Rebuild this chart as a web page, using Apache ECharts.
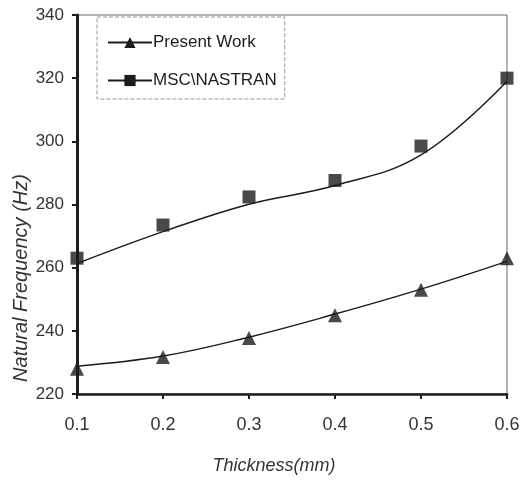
<!DOCTYPE html>
<html>
<head>
<meta charset="utf-8">
<script src="https://cdn.jsdelivr.net/npm/echarts@6/dist/echarts.min.js"></script>
<style>
  html, body { margin: 0; padding: 0; background: #fff; }
  #chart { width: 530px; height: 481px; }
</style>
</head>
<body>
<div id="chart"></div>
<script>
// thickness values on the x axis (mm)
var thickness = [0.1, 0.2, 0.3, 0.4, 0.5, 0.6];
// Present Work: plotted markers and the fitted curve
var presentPts = [228, 231.7, 237.7, 244.9, 253, 263];
var presentFit = [228.8, 232, 238, 245.3, 253.2, 262];
// MSC\NASTRAN: plotted markers and the fitted curve
var nastranPts = [263, 273.5, 282.4, 287.6, 298.5, 320];
var nastranFit = [261.3, 271.4, 280.1, 286, 295.7, 319];
var yTicks = [220, 240, 260, 280, 300, 320, 340];

function pairs(xs, ys) {
    return xs.map(function (x, i) { return [x, ys[i]]; });
}

var ink = '#1c1c1c';
var labelFont = '"Liberation Sans", Arial, sans-serif';

var chart = echarts.init(document.getElementById('chart'));
var option = {
    animation: false,
    grid: {
        left: 77, right: 23, top: 15, bottom: 87,
        show: true, borderColor: '#666', borderWidth: 1
    },
    legend: {
        orient: 'vertical',
        left: 97, top: 17,
        padding: [17, 8, 10, 10],
        itemGap: 21,
        itemWidth: 44,
        itemHeight: 14,
        borderColor: '#999',
        borderWidth: 1,
        borderType: 'dashed',
        data: ['Present Work', 'MSC\\NASTRAN'],
        textStyle: { fontFamily: labelFont, fontSize: 17, color: ink, padding: [0, 0, 0, -4] }
    },
    xAxis: {
        type: 'value',
        min: 0.1, max: 0.6, interval: 0.1,
        splitLine: { show: false },
        axisLine: { lineStyle: { color: ink, width: 2.5 } },
        axisTick: { length: 5, lineStyle: { color: ink, width: 2 } },
        axisLabel: {
            margin: 22,
            fontFamily: labelFont, fontSize: 18, color: '#333',
            formatter: function (v) { return v.toFixed(1); }
        }
    },
    yAxis: {
        type: 'value',
        min: yTicks[0], max: yTicks[yTicks.length - 1], interval: 20,
        splitLine: { show: false },
        axisLine: { show: true, lineStyle: { color: ink, width: 3 } },
        axisTick: { show: true, length: 5, lineStyle: { color: ink, width: 2 } },
        axisLabel: { margin: 13, fontFamily: labelFont, fontSize: 17, color: '#333' }
    },
    graphic: [
        {
            type: 'text', x: 274, y: 466,
            style: {
                text: 'Thickness(mm)', fill: '#333',
                font: 'italic 18px "Liberation Sans", Arial, sans-serif',
                align: 'center', verticalAlign: 'middle'
            }
        },
        {
            type: 'text', x: 21, y: 278, rotation: Math.PI / 2,
            style: {
                text: 'Natural Frequency (Hz)', fill: '#333',
                font: 'italic 20px "Liberation Sans", Arial, sans-serif',
                align: 'center', verticalAlign: 'middle'
            }
        }
    ],
    series: [
        {
            name: 'Present Work', type: 'line', smooth: 0.4,
            data: pairs(thickness, presentFit),
            symbol: 'triangle', symbolSize: 13, showSymbol: false,
            itemStyle: { color: ink },
            lineStyle: { color: ink, width: 1.5 }
        },
        {
            name: 'MSC\\NASTRAN', type: 'line', smooth: 0.4,
            data: pairs(thickness, nastranFit),
            symbol: 'rect', symbolSize: 13, showSymbol: false,
            itemStyle: { color: ink },
            lineStyle: { color: ink, width: 1.5 }
        },
        {
            name: 'Present Work pts', type: 'scatter',
            data: pairs(thickness, presentPts),
            symbol: 'triangle', symbolSize: 14,
            itemStyle: { color: ink }
        },
        {
            name: 'MSC\\NASTRAN pts', type: 'scatter',
            data: pairs(thickness, nastranPts),
            symbol: 'rect', symbolSize: 13,
            itemStyle: { color: ink }
        }
    ]
};
chart.setOption(option);
</script>
</body>
</html>
